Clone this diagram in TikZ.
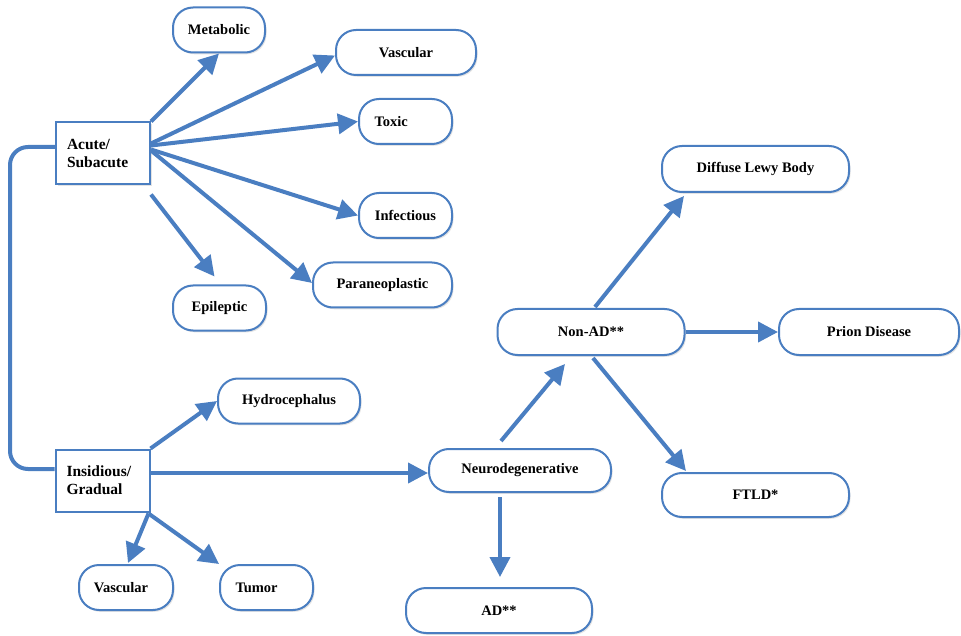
\documentclass[tikz,border=0pt]{standalone}
\usepackage{fontspec}
\setmainfont{Liberation Serif}
\usetikzlibrary{arrows.meta,calc,shadows}
\definecolor{lineblue}{RGB}{74,126,193}
\begin{document}
\begin{tikzpicture}[x=1pt,y=-1pt,
  shad/.style={drop shadow={opacity=0.22, shadow xshift=1.5pt, shadow yshift=-1.8pt}},
  pill/.style={draw=lineblue, line width=2pt, fill=white, rounded corners=20pt,
    minimum height=45pt, inner sep=0pt, font=\fontsize{14.5}{18}\selectfont\bfseries, shad},
  sq/.style={draw=lineblue, line width=2pt, fill=white, minimum width=94pt,
    minimum height=62pt, inner sep=0pt, text width=72pt, align=left,
    font=\fontsize{15.5}{18}\selectfont\bfseries, shad},
  arr/.style={draw=lineblue, line width=4pt, -{Triangle[length=20pt,width=20pt]}},
  link/.style={draw=lineblue, line width=4pt, rounded corners=18pt}]
\useasboundingbox (0,0) rectangle (961,636);

% nodes
\node[sq] (acu) at (103,153.5) {Acute/\\Subacute};
\node[sq] (ins) at (102.5,480.5) {Insidious/\\Gradual};
\node[pill, minimum width=92pt] (met) at (219,30) {Metabolic};
\node[pill, minimum width=140pt] (vas) at (406,52.5) {Vascular};
\node[pill, minimum width=93pt] (tox) at (405.5,121.5) {\makebox[62pt][l]{Toxic}};
\node[pill, minimum width=93pt] (inf) at (405.5,215.5) {Infectious};
\node[pill, minimum width=139pt] (par) at (382.5,285) {Paraneoplastic};
\node[pill, minimum width=93pt] (epi) at (219.5,308) {Epileptic};
\node[pill, minimum width=142pt] (hyd) at (289,401) {Hydrocephalus};
\node[pill, minimum width=94pt] (vas2) at (126,587.5) {Vascular\hspace*{10pt}};
\node[pill, minimum width=93pt] (tum) at (266.5,587.5) {\makebox[62pt][l]{Tumor}};
\node[pill, minimum width=182pt, minimum height=43pt] (neu) at (520,470.5) {Neurodegenerative};
\node[pill, minimum width=186pt] (ad) at (499,610.5) {AD**};
\node[pill, minimum width=187pt, minimum height=46pt] (non) at (591,332) {Non-AD**};
\node[pill, minimum width=180pt, minimum height=46pt] (pri) at (869,332) {Prion Disease};
\node[pill, minimum width=187pt, minimum height=46pt] (dlb) at (755.5,169) {Diffuse Lewy Body};
\node[pill, minimum width=187pt, minimum height=44pt] (ftl) at (755.5,495) {FTLD*};

% acute branches
\draw[arr] (acu.north east) -- (met.south);
\draw[arr] ($(acu.east)+(0,-10)$) -- ($(vas.west)+(0,3)$);
\draw[arr] ($(acu.east)+(0,-8)$) -- (tox.west);
\draw[arr] ($(acu.east)+(0,-4)$) -- (inf.west);
\draw[arr] ($(acu.east)+(0,-3)$) -- ($(par.west)+(0,-2)$);
\draw[arr] ($(acu.south east)+(0,9)$) -- ($(epi.north)+(-5,-8)$);

% link between the two onsets
\draw[link] ($(acu.west)+(0,-6.5)$) -| (10,300) |- ($(ins.west)+(0,-11.5)$);

% insidious branches
\draw[arr] (ins.north east) -- (hyd.west);
\coordinate (s1) at ($(ins.east)+(0,-7.5)$);
\draw[arr] (s1) -- (s1 -| neu.west);
\draw[arr] ($(ins.south east)+(-2,1)$) -- ($(vas2.north)+(2,-1)$);
\draw[arr] ($(ins.south east)+(-2,1)$) -- (tum.north west);

% neurodegenerative branches
\draw[arr] ($(neu.north)+(-19,-7)$) -- ($(non.south)+(-26,8)$);
\draw[arr] ($(neu.south)+(-20,4)$) -- ($(ad.north)+(1,-10)$);

% non-AD branches
\draw[arr] ($(non.north)+(4,-1)$) -- ($(dlb.south west)+(23,3)$);
\draw[arr] (non.east) -- (pri.west);
\draw[arr] ($(non.south)+(2,2)$) -- ($(ftl.north west)+(25,-1)$);
\end{tikzpicture}
\end{document}
